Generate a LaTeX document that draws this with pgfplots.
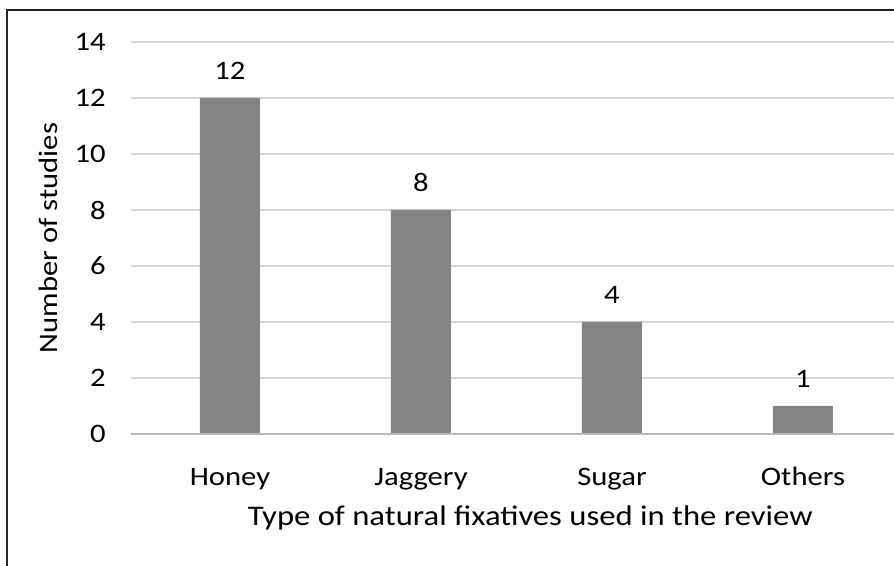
\documentclass[border=0pt]{standalone}
\usepackage{pgfplots}
\pgfplotsset{compat=1.18}
\usepackage{fontspec}
\setmainfont[FakeStretch=1.15]{Carlito}
\definecolor{barc}{RGB}{132,132,132}
\definecolor{gridc}{RGB}{214,214,214}
\definecolor{axc}{RGB}{185,185,185}
\begin{document}
\fontsize{20}{24}\selectfont
\begin{tikzpicture}
\useasboundingbox (-98pt,-99pt) rectangle (572.5pt,325.5pt);
\begin{axis}[
  at={(0,0)}, anchor=south west,
  scale only axis,
  width=573pt, height=294pt,
  xmin=-0.52, xmax=3.48,
  ymin=0, ymax=14,
  ytick={0,2,...,14},
  xtick=data,
  xticklabels={Honey,Jaggery,Sugar,Others},
  ybar, bar width=45pt,
  axis line style={draw=none},
  axis x line*=bottom,
  tick style={draw=none},
  ymajorgrids,
  grid style={gridc, line width=1.4pt},
  /pgf/number format/assume math mode=true,
  yticklabel style={anchor=east, inner sep=0pt, xshift=-18.5pt},
  xticklabel style={anchor=base, inner sep=0pt, yshift=-34pt},
  xlabel={Type of natural fixatives used in the review},
  ylabel={Number of studies},
  every axis x label/.style={at={(axis description cs:0.523,0)}, anchor=base, inner sep=0pt, yshift=-68.5pt, font=\fontsize{21.3}{25}\selectfont},
  every axis y label/.style={at={(axis description cs:-0.108,0.5)}, anchor=center, rotate=90, inner sep=0pt},
  nodes near coords,
  every node near coord/.append style={anchor=base, inner sep=0pt, yshift=14pt, black},
  clip=false,
]
\addplot[fill=barc, draw=none] coordinates {(0,12) (1,8) (2,4) (3,1)};
\draw[axc, line width=1.4pt] (axis cs:-0.52,0) -- (axis cs:3.48,0);
\end{axis}
\draw[black!85, line width=1.5pt] (-92.8pt,-110pt) -- (-92.8pt,318pt) -- (580pt,318pt);
\end{tikzpicture}
\end{document}
